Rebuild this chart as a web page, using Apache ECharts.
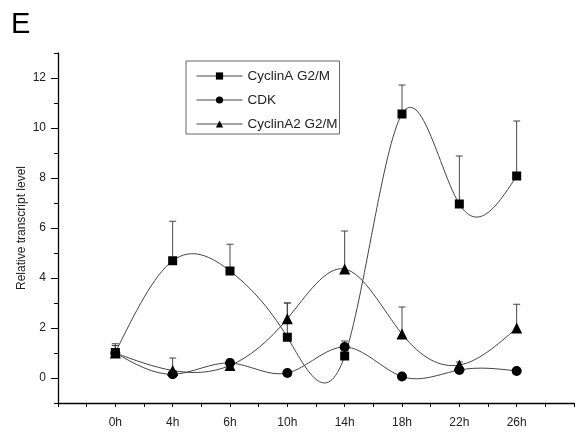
<!DOCTYPE html>
<html>
<head>
<meta charset="utf-8">
<script src="https://cdn.jsdelivr.net/npm/echarts@6/dist/echarts.min.js"></script>
<style>html,body{margin:0;padding:0;background:#fff}#c{width:577px;height:432px}</style>
</head>
<body>
<div id="c"></div>
<script>
var times = ['0h','4h','6h','10h','14h','18h','22h','26h'];
var yTickLabels = [0, 2, 4, 6, 8, 10, 12];
var yMinorTicks = [-1, 1, 3, 5, 7, 9, 11, 13];
var cyclinA = [1.02, 4.69, 4.28, 1.63, 0.88, 10.56, 6.96, 8.08];
var cyclinAErr = [0.35, 1.58, 1.07, 1.37, 0.42, 1.16, 1.92, 2.2];
var cdk = [1.0, 0.15, 0.6, 0.2, 1.24, 0.06, 0.32, 0.28];
var cdkErr = [0.3, 0.1, 0.15, 0.05, 0.24, 0.05, 0.08, 0.05];
var cyclinA2 = [1.0, 0.3, 0.5, 2.37, 4.36, 1.76, 0.52, 2.0];
var cyclinA2Err = [0.3, 0.5, 0.12, 0.63, 1.52, 1.08, 0.12, 0.95];

var names = ['CyclinA G2/M', 'CDK', 'CyclinA2 G2/M'];
var vals = [cyclinA, cdk, cyclinA2];
var errs = [cyclinAErr, cdkErr, cyclinA2Err];
var symbols = ['rect', 'circle', 'triangle'];
var sizes = [9, 10, 11];
var ink = '#222';
var curveColor = '#444';

var chart = echarts.init(document.getElementById('c'), null, {renderer: 'canvas'});

function errRender(params, api) {
  var x = api.value(0), v = api.value(1), e = api.value(2);
  var p0 = api.coord([x, v]);
  var p1 = api.coord([x, v + e]);
  var st = {stroke: '#444', lineWidth: 1};
  return {type: 'group', children: [
    {type: 'line', shape: {x1: p0[0], y1: p0[1], x2: p1[0], y2: p1[1]}, style: st},
    {type: 'line', shape: {x1: p1[0] - 3.5, y1: p1[1], x2: p1[0] + 3.5, y2: p1[1]}, style: st}
  ]};
}

// natural cubic spline second derivatives (unit spacing) for drawing a smooth path through the points
function splineM(y) {
  var n = y.length, M = new Array(n).fill(0);
  var a = [], b = [], c = [], d = [];
  for (var i = 1; i < n - 1; i++) {
    a.push(1); b.push(4); c.push(1);
    d.push(6 * (y[i + 1] - 2 * y[i] + y[i - 1]));
  }
  var m = d.length;
  for (var k = 1; k < m; k++) {
    var w = a[k] / b[k - 1];
    b[k] -= w * c[k - 1];
    d[k] -= w * d[k - 1];
  }
  var sol = new Array(m);
  sol[m - 1] = d[m - 1] / b[m - 1];
  for (var k2 = m - 2; k2 >= 0; k2--) sol[k2] = (d[k2] - c[k2] * sol[k2 + 1]) / b[k2];
  for (var j = 0; j < m; j++) M[j + 1] = sol[j];
  return M;
}

function curveRenderFor(arr) {
  return function (params, api) {
    if (params.dataIndex !== 0) return null;
    var M = splineM(arr);
    var p = api.coord([0, arr[0]]);
    var path = 'M' + p[0] + ' ' + p[1];
    for (var i = 0; i < arr.length - 1; i++) {
      var d0 = (arr[i + 1] - arr[i]) - (2 * M[i] + M[i + 1]) / 6;
      var d1 = (arr[i + 1] - arr[i]) + (M[i] + 2 * M[i + 1]) / 6;
      var c1 = api.coord([i + 1 / 3, arr[i] + d0 / 3]);
      var c2 = api.coord([i + 2 / 3, arr[i + 1] - d1 / 3]);
      var e = api.coord([i + 1, arr[i + 1]]);
      path += ' C' + c1[0] + ' ' + c1[1] + ' ' + c2[0] + ' ' + c2[1] + ' ' + e[0] + ' ' + e[1];
    }
    return {type: 'path', shape: {pathData: path}, style: {stroke: curveColor, lineWidth: 1, fill: null}};
  };
}

var series = [];
for (var s = 0; s < 3; s++) {
  series.push({
    type: 'custom', name: names[s] + ' err', xAxisIndex: 0, yAxisIndex: 0,
    renderItem: errRender, z: 1, silent: true,
    data: times.map(function (t, i) { return [i, vals[s][i], errs[s][i]]; })
  });
  series.push({
    type: 'custom', name: names[s] + ' curve', xAxisIndex: 0, yAxisIndex: 0,
    renderItem: curveRenderFor(vals[s]), z: 2, silent: true, clip: false,
    data: times.map(function (t, i) { return [i, vals[s][i]]; })
  });
}
for (var s2 = 0; s2 < 3; s2++) {
  series.push({
    type: 'line', name: names[s2], xAxisIndex: 0, yAxisIndex: 0, z: 3,
    symbol: symbols[s2], symbolSize: sizes[s2], showSymbol: true,
    lineStyle: {color: curveColor, width: 1, opacity: 0},
    itemStyle: {color: '#000', borderWidth: 0},
    data: times.map(function (t, i) { return [i, vals[s2][i]]; })
  });
}

chart.setOption({
  animation: false,
  backgroundColor: '#fff',
  title: {text: 'E', left: 6, top: 5, textStyle: {fontSize: 29, fontWeight: 'normal', color: '#000', fontFamily: 'Liberation Sans'}},
  legend: {
    data: names, orient: 'vertical', left: 186, top: 61,
    padding: [8, 2, 3, 10], itemGap: 10, itemWidth: 46, itemHeight: 9,
    borderColor: '#666', borderWidth: 1,
    lineStyle: {color: curveColor, width: 1, opacity: 1},
    textStyle: {fontSize: 13.5, color: ink, fontFamily: 'Liberation Sans'}
  },
  grid: {left: 58, right: 2, top: 53, bottom: 29, containLabel: false},
  xAxis: {
    type: 'value', min: -1, max: 8, interval: 0.5,
    splitLine: {show: false},
    axisLine: {show: true, onZero: false, lineStyle: {color: '#000', width: 1.3}},
    axisTick: {show: true, length: 4, lineStyle: {color: '#000'}},
    axisLabel: {
      margin: 14, color: ink, fontSize: 12, fontFamily: 'Liberation Sans',
      formatter: function (v) {
        if (Math.abs(v - Math.round(v)) < 1e-6 && v >= 0 && v < times.length) return times[Math.round(v)];
        return '';
      }
    }
  },
  yAxis: [{
    type: 'value', min: -1, max: 13, interval: 1,
    name: 'Relative transcript level', nameLocation: 'middle', nameGap: 30, nameMoveOverlap: false,
    nameTextStyle: {fontSize: 12, color: ink, fontFamily: 'Liberation Sans'},
    splitLine: {show: false},
    axisLine: {show: true, onZero: false, lineStyle: {color: '#000', width: 1.3}},
    axisTick: {show: true, length: 7, customValues: yTickLabels, lineStyle: {color: '#000'}},
    axisLabel: {margin: 12, color: ink, fontSize: 12, fontFamily: 'Liberation Sans', customValues: yTickLabels}
  }, {
    type: 'value', min: -1, max: 13, interval: 1, position: 'left',
    splitLine: {show: false},
    axisLine: {show: false, onZero: false},
    axisTick: {show: true, length: 4, customValues: yMinorTicks, lineStyle: {color: '#000'}},
    axisLabel: {show: false}
  }],
  series: series
});
</script>
</body>
</html>
